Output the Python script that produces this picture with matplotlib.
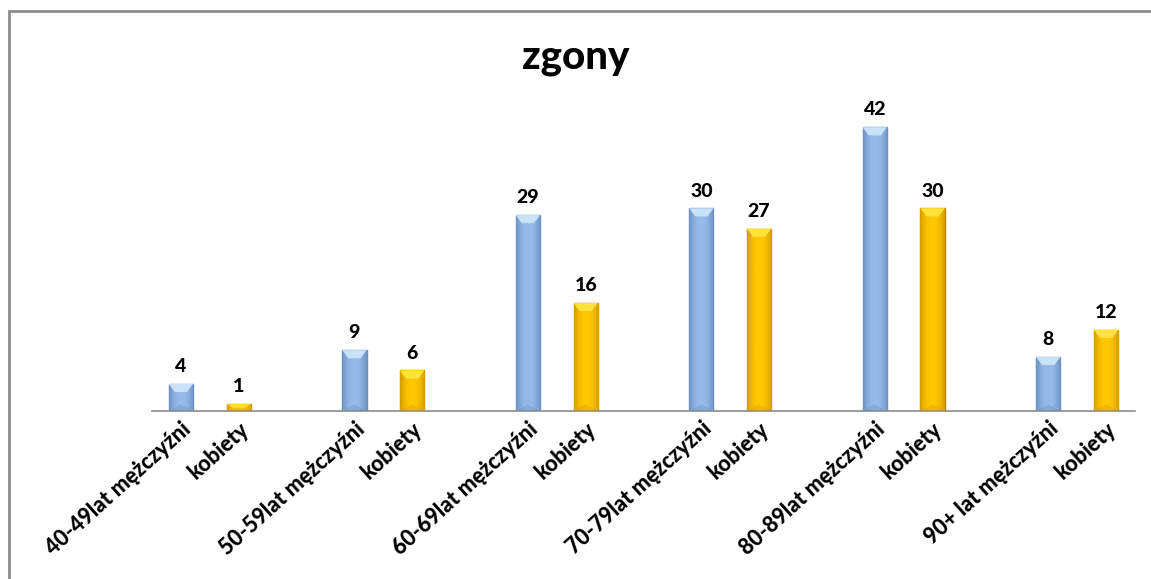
import matplotlib.pyplot as plt
import numpy as np
from matplotlib.patches import Rectangle, Polygon
from matplotlib.colors import LinearSegmentedColormap

# slots include blank gaps between the age groups, like the original sheet
labels = ['40-49lat mężczyźni', 'kobiety', '',
          '50-59lat mężczyźni', 'kobiety', '',
          '60-69lat mężczyźni', 'kobiety', '',
          '70-79lat mężczyźni', 'kobiety', '',
          '80-89lat mężczyźni', 'kobiety', '',
          '90+ lat mężczyźni', 'kobiety']
men = [4, 9, 29, 30, 42, 8]
women = [1, 6, 16, 27, 30, 12]

plt.rcParams['font.family'] = ['Lato', 'DejaVu Sans']

fig = plt.figure(figsize=(11.51, 5.79), dpi=100)
ax = fig.add_axes([152 / 1151, 1 - 411 / 579, (1135 - 152) / 1151, (411 - 107) / 579])

x = np.arange(len(labels))
men_x = x[0::3]
women_x = x[1::3]
w = 0.42

def shaded_bars(xs, vals, base, dark, light, edge):
    bars = ax.bar(xs, vals, width=w, color=base, edgecolor=edge, linewidth=1.0, zorder=2)
    grad = np.linspace(0, 1, 64)
    prof = np.clip(1 - 2.2 * np.abs(grad - 0.5) ** 2.2 * 2, 0, 1)
    cmap = LinearSegmentedColormap.from_list('c', [dark, base])
    for b in bars:
        x0, h, bw = b.get_x(), b.get_height(), b.get_width()
        im = ax.imshow(prof[None, :], cmap=cmap, aspect='auto', vmin=0, vmax=1,
                       extent=[x0, x0 + bw, 0, h], zorder=2.5)
        im.set_clip_path(b)
        d = min(1.2, h / 2)
        ax.add_patch(Polygon([[x0, h], [x0 + bw, h], [x0 + bw * 0.75, h - d], [x0 + bw * 0.25, h - d]],
                             closed=True, facecolor=light, edgecolor='none', zorder=2.7))
        ax.add_patch(Polygon([[x0, 0], [x0 + bw, 0], [x0 + bw * 0.5, d * 0.8]],
                             closed=True, facecolor=dark, alpha=0.35, edgecolor='none', zorder=2.7))
        ax.text(x0 + bw / 2, h + 1.3, str(int(h)),
                ha='center', va='bottom', fontsize=14, fontweight='black', color='black')
    return bars

shaded_bars(men_x, men, '#95BBEA', '#6A8FBF', '#C9E2F8', '#6F8FB5')
shaded_bars(women_x, women, '#FFC800', '#D29A00', '#FFE23C', '#B58700')

ax.set_xlim(-0.5, len(labels) - 0.5)
ax.set_ylim(0, 45)
ax.set_xticks(x)
ax.set_xticklabels(labels, rotation=42, ha='right', rotation_mode='anchor',
                   fontsize=15.5, fontweight='black')
ax.tick_params(axis='x', length=0, pad=5)
ax.set_yticks([])
for s in ['top', 'right', 'left']:
    ax.spines[s].set_visible(False)
ax.spines['bottom'].set_color('#8C8C8C')
ax.spines['bottom'].set_linewidth(1.2)

fig.text(0.5, 1 - 58 / 579, 'zgony', ha='center', va='center', fontsize=29, fontweight='black')

fig.patches.append(Rectangle((9 / 1151, -0.1), 1.2, 1 - 11 / 579 + 0.1, transform=fig.transFigure,
                             fill=False, edgecolor='#8C8C8C', linewidth=2))

fig.savefig('out.png', dpi=100)
